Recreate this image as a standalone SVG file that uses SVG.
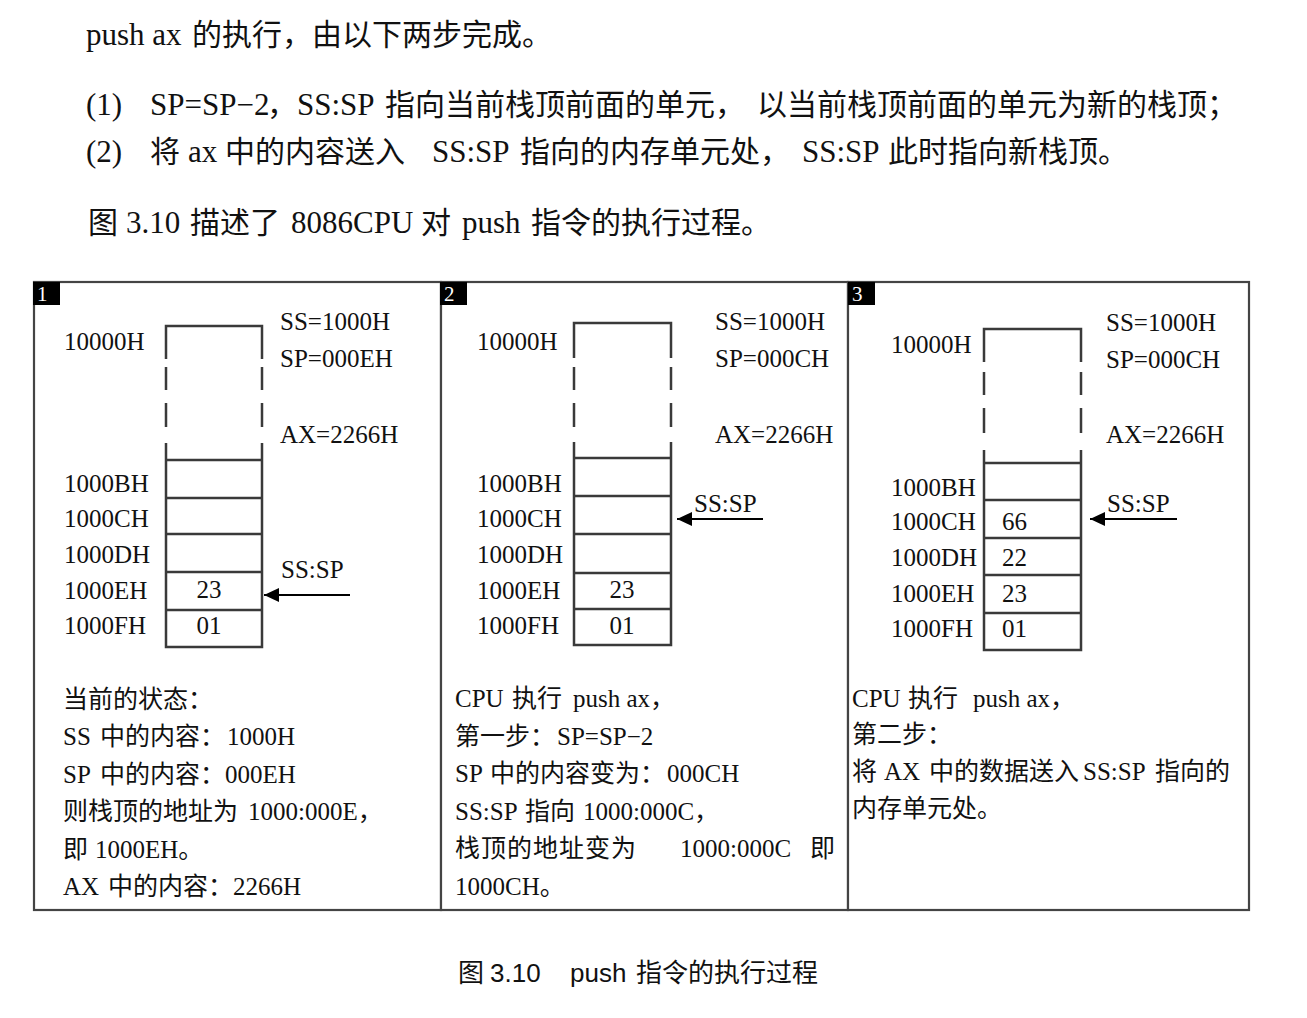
<svg xmlns="http://www.w3.org/2000/svg" width="1307" height="1018" viewBox="0 0 1307 1018">
<defs>
<style>
.t{font-family:"Liberation Serif","Noto Sans CJK SC",serif;fill:#111}
.big{font-size:30px}
.big .l{font-size:31px}
.m{font-size:25px}
.cap{font-family:"Liberation Sans","Noto Sans CJK SC",sans-serif;font-size:26px;fill:#111}
.panel{fill:#fff;stroke:#444;stroke-width:2.2}
.stk{stroke:#3a3a3a;stroke-width:2.5;fill:none}
.num{fill:#000}
.numt{font-family:"Liberation Serif",serif;font-size:21px;fill:#fff}
.arr{stroke:#000;stroke-width:2;fill:none;marker-end:url(#ah)}
</style>
<marker id="ah" markerWidth="16" markerHeight="14" refX="15" refY="7" orient="auto" markerUnits="userSpaceOnUse">
<path d="M0,0 L15,7 L0,14 Z" fill="#000"/>
</marker>
</defs>
<rect width="1307" height="1018" fill="#fff"/>

<g id="intro">
<text class="t big" y="45"><tspan class="l" x="86">push ax</tspan><tspan x="192">的执行，由以下两步完成。</tspan></text>
<text class="t big" y="115"><tspan class="l" x="86">(1)</tspan><tspan class="l" x="150">SP=SP−2</tspan><tspan x="267">，</tspan><tspan class="l" x="297">SS:SP</tspan><tspan x="385">指向当前栈顶前面的单元，</tspan><tspan x="757">以当前栈顶前面的单元为新的栈顶；</tspan></text>
<text class="t big" y="162"><tspan class="l" x="86">(2)</tspan><tspan x="150">将</tspan><tspan class="l" x="188">ax</tspan><tspan x="225">中的内容送入</tspan><tspan class="l" x="432">SS:SP</tspan><tspan x="520">指向的内存单元处，</tspan><tspan class="l" x="802">SS:SP</tspan><tspan x="888">此时指向新栈顶。</tspan></text>
<text class="t big" y="233"><tspan x="88">图</tspan><tspan class="l" x="126">3.10</tspan><tspan x="190">描述了</tspan><tspan class="l" x="291">8086CPU</tspan><tspan x="421">对</tspan><tspan class="l" x="462">push</tspan><tspan x="531">指令的执行过程。</tspan></text>
</g>

<g id="panel1">
<rect class="panel" x="34" y="282" width="407" height="628"/>
<rect class="num" x="33" y="282" width="27" height="23"/>
<text class="numt" x="37" y="301">1</text>
<g class="stk">
<path d="M166,359 V326 H262 V359"/>
<path d="M166,367 V390 M166,403 V427 M262,367 V390 M262,403 V427"/>
<path d="M166,443 V647 H262 V443"/>
<path d="M166,460 H262 M166,498 H262 M166,534 H262 M166,572 H262 M166,610 H262"/>
</g>
<text class="t m" x="64" y="350">10000H</text>
<text class="t m" x="64" y="492">1000BH</text>
<text class="t m" x="64" y="527">1000CH</text>
<text class="t m" x="64" y="563">1000DH</text>
<text class="t m" x="64" y="599">1000EH</text>
<text class="t m" x="64" y="634">1000FH</text>
<text class="t m" x="209" y="598" text-anchor="middle">23</text>
<text class="t m" x="209" y="634" text-anchor="middle">01</text>
<text class="t m" x="280" y="330">SS=1000H</text>
<text class="t m" x="280" y="367">SP=000EH</text>
<text class="t m" x="280" y="443">AX=2266H</text>
<text class="t m" x="281" y="578">SS:SP</text>
<text class="t m" y="708"><tspan x="63">当前的状态：</tspan></text>
<text class="t m" y="745"><tspan x="63">SS</tspan><tspan x="100">中的内容：</tspan><tspan x="227">1000H</tspan></text>
<text class="t m" y="783"><tspan x="63">SP</tspan><tspan x="100">中的内容：</tspan><tspan x="225">000EH</tspan></text>
<text class="t m" y="820"><tspan x="63">则栈顶的地址为</tspan><tspan x="248">1000:000E，</tspan></text>
<text class="t m" y="858"><tspan x="63">即</tspan><tspan x="95">1000EH。</tspan></text>
<text class="t m" y="895"><tspan x="63">AX</tspan><tspan x="108">中的内容：</tspan><tspan x="233">2266H</tspan></text>
</g>

<g id="panel2">
<rect class="panel" x="441" y="282" width="407" height="628"/>
<rect class="num" x="440" y="282" width="27" height="23"/>
<text class="numt" x="444" y="301">2</text>
<g class="stk">
<path d="M574,358 V323 H671 V358"/>
<path d="M574,367 V390 M574,403 V427 M671,367 V390 M671,403 V427"/>
<path d="M574,442 V645 H671 V442"/>
<path d="M574,458 H671 M574,496 H671 M574,534 H671 M574,573 H671 M574,609 H671"/>
</g>
<text class="t m" x="477" y="350">10000H</text>
<text class="t m" x="477" y="492">1000BH</text>
<text class="t m" x="477" y="527">1000CH</text>
<text class="t m" x="477" y="563">1000DH</text>
<text class="t m" x="477" y="599">1000EH</text>
<text class="t m" x="477" y="634">1000FH</text>
<text class="t m" x="622" y="598" text-anchor="middle">23</text>
<text class="t m" x="622" y="634" text-anchor="middle">01</text>
<text class="t m" x="715" y="330">SS=1000H</text>
<text class="t m" x="715" y="367">SP=000CH</text>
<text class="t m" x="715" y="443">AX=2266H</text>
<text class="t m" x="694" y="512">SS:SP</text>
<text class="t m" y="707"><tspan x="455">CPU</tspan><tspan x="512">执行</tspan><tspan x="573">push ax，</tspan></text>
<text class="t m" y="745"><tspan x="455">第一步：</tspan><tspan x="557">SP=SP−2</tspan></text>
<text class="t m" y="782"><tspan x="455">SP</tspan><tspan x="490">中的内容变为：</tspan><tspan x="667">000CH</tspan></text>
<text class="t m" y="820"><tspan x="455">SS:SP</tspan><tspan x="525">指向</tspan><tspan x="583">1000:000C，</tspan></text>
<text class="t m" y="857"><tspan x="455">栈</tspan><tspan x="481">顶</tspan><tspan x="507">的</tspan><tspan x="533">地</tspan><tspan x="559">址</tspan><tspan x="585">变</tspan><tspan x="611">为</tspan><tspan x="680">1000:000C</tspan><tspan x="810">即</tspan></text>
<text class="t m" x="455" y="895">1000CH。</text>
</g>

<g id="panel3">
<rect class="panel" x="848" y="282" width="401" height="628"/>
<rect class="num" x="848" y="282" width="27" height="23"/>
<text class="numt" x="852" y="301">3</text>
<g class="stk">
<path d="M984,362 V329 H1081 V362"/>
<path d="M984,372 V395 M984,408 V433 M1081,372 V395 M1081,408 V433"/>
<path d="M984,450 V650 H1081 V450"/>
<path d="M984,463 H1081 M984,500 H1081 M984,538 H1081 M984,575 H1081 M984,613 H1081"/>
</g>
<text class="t m" x="891" y="353">10000H</text>
<text class="t m" x="891" y="496">1000BH</text>
<text class="t m" x="891" y="530">1000CH</text>
<text class="t m" x="891" y="566">1000DH</text>
<text class="t m" x="891" y="602">1000EH</text>
<text class="t m" x="891" y="637">1000FH</text>
<text class="t m" x="1002" y="530">66</text>
<text class="t m" x="1002" y="566">22</text>
<text class="t m" x="1002" y="602">23</text>
<text class="t m" x="1002" y="637">01</text>
<text class="t m" x="1106" y="331">SS=1000H</text>
<text class="t m" x="1106" y="368">SP=000CH</text>
<text class="t m" x="1106" y="443">AX=2266H</text>
<text class="t m" x="1107" y="512">SS:SP</text>
<text class="t m" y="707"><tspan x="852">CPU</tspan><tspan x="908">执行</tspan><tspan x="973">push ax，</tspan></text>
<text class="t m" x="852" y="743">第二步：</text>
<text class="t m" y="780"><tspan x="852">将</tspan><tspan x="884">AX</tspan><tspan x="929">中的数据送入</tspan><tspan x="1083">SS:SP</tspan><tspan x="1155">指向的</tspan></text>
<text class="t m" x="852" y="817">内存单元处。</text>
</g>

<g id="connectors">
<line class="arr" x1="350" y1="595" x2="264" y2="595"/>
<line class="arr" x1="763" y1="519" x2="677" y2="519"/>
<line class="arr" x1="1177" y1="519" x2="1090" y2="519"/>
</g>

<g id="caption">
<text class="cap" y="982"><tspan x="458">图</tspan><tspan x="490">3.10</tspan><tspan x="570">push</tspan><tspan x="636">指令的执行过程</tspan></text>
</g>
</svg>
